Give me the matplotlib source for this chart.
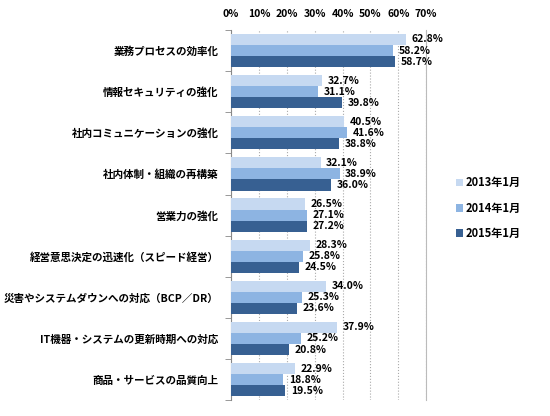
import matplotlib
matplotlib.use("Agg")
import matplotlib.pyplot as plt
import numpy as np

plt.rcParams['font.family'] = ['Noto Sans CJK JP', 'DejaVu Sans']

categories = ["業務プロセスの効率化", "情報セキュリティの強化", "社内コミュニケーションの強化",
              "社内体制・組織の再構築", "営業力の強化", "経営意思決定の迅速化（スピード経営）",
              "災害やシステムダウンへの対応（BCP／DR）", "IT機器・システムの更新時期への対応",
              "商品・サービスの品質向上"]
series_names = ["2013年1月", "2014年1月", "2015年1月"]
v2013 = [62.8, 32.7, 40.5, 32.1, 26.5, 28.3, 34.0, 37.9, 22.9]
v2014 = [58.2, 31.1, 41.6, 38.9, 27.1, 25.8, 25.3, 25.2, 18.8]
v2015 = [58.7, 39.8, 38.8, 36.0, 27.2, 24.5, 23.6, 20.8, 19.5]
colors = ["#C6D9F1", "#8DB4E2", "#376092"]

fig = plt.figure(figsize=(5.5, 4.16), dpi=100)
ax = fig.add_axes([0.42, 0.038, 0.355, 0.89])

n = len(categories)
y = np.arange(n)
h = 0.27
for i, (vals, c, name) in enumerate(zip([v2013, v2014, v2015], colors, series_names)):
    pos = y + (i - 1) * h
    ax.barh(pos, vals, height=h, color=c, label=name, zorder=3)
    for p, v in zip(pos, vals):
        ax.text(v + 2.0, p, f"{v:.1f}%", va="center", ha="left", fontsize=7.5, fontweight="bold")

ax.set_xlim(0, 70)
ax.set_ylim(n - 0.5, -0.5)
ax.xaxis.tick_top()
ax.set_xticks(range(0, 71, 10))
ax.set_xticklabels([f"{t}%" for t in range(0, 71, 10)], fontsize=7.5, fontweight="bold")
ax.tick_params(axis="x", length=0, pad=8)
ax.set_yticks(y)
ax.set_yticklabels(categories, fontsize=7.6, fontweight="bold")
ax.set_yticks(np.arange(-0.5, n, 1), minor=True)
ax.tick_params(axis="y", which="major", length=0, pad=9)
ax.tick_params(axis="y", which="minor", length=4, color="#888888")
ax.grid(axis="x", linestyle=":", color="#AAAAAA", linewidth=0.8, zorder=0)
for s in ["top", "bottom"]:
    ax.spines[s].set_visible(False)
ax.spines["left"].set_color("#888888")
ax.spines["right"].set_color("#BBBBBB")

ax.legend(loc="center left", bbox_to_anchor=(0.81, 0.5), bbox_transform=fig.transFigure,
          frameon=False, handlelength=0.7, handleheight=0.7,
          handletextpad=0.2, labelspacing=1.1,
          prop={"weight": "bold", "size": 8})

fig.savefig("out.png", dpi=100)
